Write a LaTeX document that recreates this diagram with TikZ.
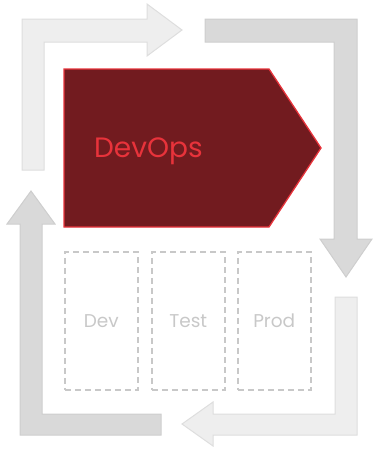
\documentclass[tikz,border=0pt]{standalone}
\usepackage{fontspec}
\setmainfont{Poppins}
\definecolor{lightfill}{HTML}{EEEEEE}
\definecolor{lightline}{HTML}{DEDEDE}
\definecolor{darkfill}{HTML}{D9D9D9}
\definecolor{darkline}{HTML}{CECECE}
\definecolor{opsfill}{HTML}{721B1F}
\definecolor{opsred}{HTML}{E8333B}
\definecolor{envgray}{HTML}{C8C8C8}
\tikzset{
  lightarrow/.style={fill=lightfill, draw=lightline, line width=1pt, line join=miter},
  darkarrow/.style={fill=darkfill, draw=darkline, line width=1pt, line join=miter},
  opsbox/.style={fill=opsfill, draw=opsred, line width=1.3pt},
  envbox/.style={draw=envgray, dash pattern=on 6pt off 4pt, line width=1.5pt,
    minimum width=73pt, minimum height=138pt, inner sep=0pt, anchor=north west,
    text=envgray, font=\fontsize{18.5}{22}\selectfont},
}
\begin{document}
\begin{tikzpicture}[x=1pt,y=-1pt]
\useasboundingbox (0,0) rectangle (373,450);
% top-left light arrow
\draw[lightarrow] (22,170) -- (22,19) -- (147,19) -- (147,4) -- (182,30) -- (147,56) -- (147,42) -- (44,42) -- (44,170) -- cycle;
% top-right dark arrow
\draw[darkarrow] (205,19) -- (357,19) -- (357,239) -- (372,239) -- (346,277) -- (320,239) -- (334,239) -- (334,42) -- (205,42) -- cycle;
% bottom-right light arrow
\draw[lightarrow] (335,297) -- (357,297) -- (357,435) -- (213,435) -- (213,446) -- (182,424) -- (213,402) -- (213,414) -- (335,414) -- cycle;
% bottom-left dark arrow
\draw[darkarrow] (161,414) -- (161,435) -- (20,435) -- (20,224) -- (7,224) -- (31,191) -- (55,224) -- (42,224) -- (42,414) -- cycle;
% DevOps pentagon
\draw[opsbox] (64,69) -- (269,69) -- (321,148) -- (269,227) -- (64,227) -- cycle;
\node[text=opsred, font=\fontsize{28}{32}\selectfont, anchor=base west, inner sep=0pt] (devops) at (94,157) {DevOps};
% environment boxes
\node[envbox] (dev) at (64,251) {Dev};
\node[envbox] (test) at (151,251) {Test};
\node[envbox] (prod) at (237,251) {Prod};
\end{tikzpicture}
\end{document}
